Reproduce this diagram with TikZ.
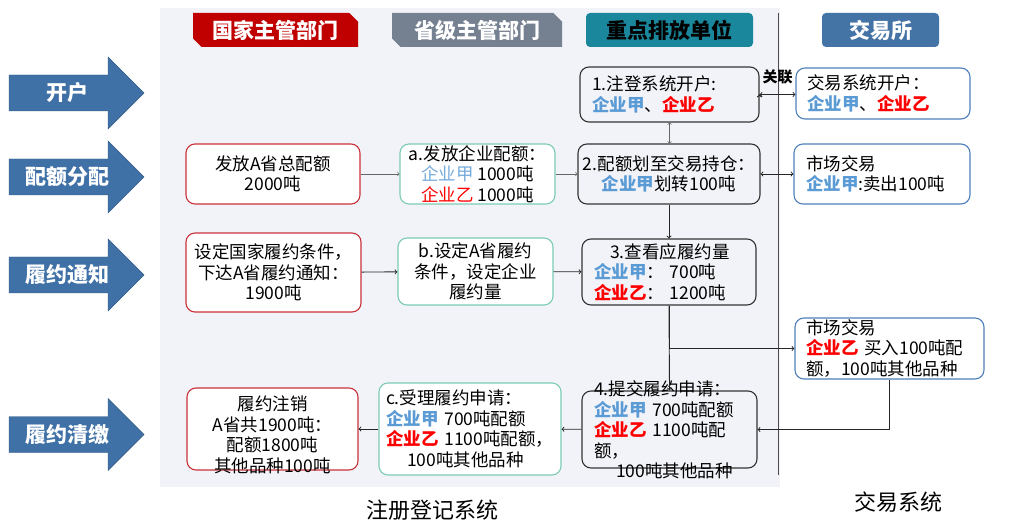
\documentclass[tikz,border=0pt]{standalone}
\usepackage{fontspec}
\setmainfont{Noto Sans CJK SC}
\usetikzlibrary{shapes.misc}

\definecolor{panelbg}{HTML}{F2F3F8}
\definecolor{natred}{HTML}{C00000}
\definecolor{provgrey}{HTML}{758090}
\definecolor{unitteal}{HTML}{1A879C}
\definecolor{exblue}{HTML}{4473A6}
\definecolor{stepblue}{HTML}{3F70A6}
\definecolor{natline}{HTML}{C8323A}
\definecolor{provline}{HTML}{7CCBB4}
\definecolor{exline}{HTML}{4E7FBA}
\definecolor{jia}{HTML}{5B9BD5}
\definecolor{yi}{HTML}{FF0000}

\begin{document}
\begin{tikzpicture}[x=1pt,y=-1pt,>=to,
  every node/.style={font=\fontsize{17.5}{20.5}\selectfont,inner sep=0pt},
  nat node/.style={rectangle,rounded corners=9pt,draw=natline,line width=1.1pt,fill=white,align=center},
  prov node/.style={rectangle,rounded corners=9pt,draw=provline,line width=1.1pt,fill=white,align=center},
  unit node/.style={rectangle,rounded corners=9pt,draw=black!80,line width=1.1pt,fill=panelbg},
  ex node/.style={rectangle,rounded corners=9pt,draw=exline,line width=1.1pt,fill=white,align=left},
  head node/.style={font=\bfseries\fontsize{21}{24}\selectfont,minimum height=34,text=white},
  snip node/.style={chamfered rectangle,chamfered rectangle xsep=5pt,chamfered rectangle angle=45,
    chamfered rectangle corners={north east,south west}},
  step node/.style={font=\bfseries\fontsize{21}{24}\selectfont,text=white},
  thin line/.style={->,draw=black!60,line width=0.6pt},
  main line/.style={->,draw=black!85,line width=0.9pt}]

  \useasboundingbox (0,0) rectangle (1009,526);

  % panel of the registry system
  \fill[panelbg] (160,8) rectangle (780,487);
  \draw[black!70,line width=1pt] (778,13) -- (778,475);

  % column heads
  \node[head node,snip node,fill=natred,minimum width=165] (hnat) at (275.5,30) {国家主管部门};
  \node[head node,snip node,fill=provgrey,minimum width=170] (hprov) at (477,30) {省级主管部门};
  \node[head node,rounded corners=4pt,fill=unitteal,text=black,minimum width=167] (hunit) at (669.5,30) {重点排放单位};
  \node[head node,rounded corners=4pt,fill=exblue,minimum width=117] (hex) at (880.5,30) {交易所};

  % steps on the left
  \foreach \y/\t in {93/开户,177/配额分配,275/履约通知,434.5/履约清缴}{
    \draw[fill=stepblue,draw=stepblue!80!black] (9,\y-18) -- (108,\y-18) -- (108,\y-36) -- (144,\y)
      -- (108,\y+36) -- (108,\y+18) -- (9,\y+18) -- cycle;
    \node[step node] (step\y) at (67,\y) {\t};
  }

  % open accounts
  \node[unit node,minimum width=179,minimum height=55,text width=155,align=left] (s1) at (669.5,94.5)
    {1.注登系统开户:\\{\bfseries\color{jia}企业甲}、{\bfseries\color{yi}企业乙}};
  \node[ex node,minimum width=174,minimum height=51,text width=152] (t1) at (883,93.5)
    {交易系统开户：\\{\bfseries\color{jia}企业甲}、{\bfseries\color{yi}企业乙}};

  % allocation
  \node[nat node,minimum width=174,minimum height=60] (g1) at (273,174) {发放A省总配额\\2000吨};
  \node[prov node,minimum width=155,minimum height=60] (p1) at (477.5,174)
    {a.发放企业配额：\\{\color{jia!85}企业甲} 1000吨\\{\color{yi}企业乙} 1000吨};
  \node[unit node,minimum width=182,minimum height=60,align=center] (s2) at (669,174)
    {2.配额划至交易持仓：\\{\bfseries\color{jia}企业甲}划转100吨};
  \node[ex node,minimum width=176,minimum height=60,text width=152] (t2) at (882,174)
    {市场交易\\{\bfseries\color{jia}企业甲}:卖出100吨};

  % notice
  \node[nat node,minimum width=175,minimum height=79] (g2) at (273.5,272.5)
    {设定国家履约条件，\\下达A省履约通知：\\1900吨};
  \node[prov node,minimum width=155,minimum height=67] (p2) at (475.5,271.5)
    {b.设定A省履约\\条件，设定企业\\履约量};
  \node[unit node,minimum width=174,minimum height=66,text width=150,align=left] (s3) at (669,272)
    {\hspace*{16pt}3.查看应履约量\\{\bfseries\color{jia}企业甲}：\ 700吨\\{\bfseries\color{yi}企业乙}：\ 1200吨};
  \node[ex node,minimum width=189,minimum height=61,text width=167] (t3) at (889.5,348.5)
    {市场交易\\{\bfseries\color{yi}企业乙} 买入100吨配\\额，100吨其他品种};

  % settlement
  \node[nat node,minimum width=171,minimum height=82] (g3) at (272.5,429) {};
  \node[align=center] (g3t) at (272.5,435) {履约注销\\A省共1900吨：\\配额1800吨\\其他品种100吨};
  \node[prov node,minimum width=182,minimum height=92,text width=168,align=left] (p3) at (470,429)
    {c.受理履约申请：\\{\bfseries\color{jia}企业甲} 700吨配额\\{\bfseries\color{yi}企业乙} 1100吨配额，\\\hspace*{21pt}100吨其他品种};
  \node[unit node,minimum width=175,minimum height=77] (s4) at (669.5,429.5) {};
  \node[align=left,text width=150] (s4t) at (669,430)
    {4.提交履约申请：\\{\bfseries\color{jia}企业甲} 700吨配额\\{\bfseries\color{yi}企业乙} 1100吨配\\额，\\\hspace*{22pt}100吨其他品种};

  % system names
  \node[font=\fontsize{22}{26}\selectfont] (regsys) at (432,510) {注册登记系统};
  \node[font=\fontsize{22}{26}\selectfont] (tradesys) at (898,502) {交易系统};

  \path[thin line]
    (g1) edge (p1)
    (p1) edge (s2)
    (s1.south) edge (s1.south |- s2.north);

  \path[main line]
    (g2) edge (p2)
    (p2) edge (s3)
    (s2) edge (s3)
    (s4) edge (p3)
    (p3) edge (g3);

  \path[main line,<->]
    (s1.east) edge node[above=10pt,font=\bfseries\fontsize{15}{18}\selectfont] (link) {关联} (s1.east -| t1.west)
    (s2) edge (t2);

  \draw[main line] (s3.south) |- (t3.west);
  \draw[main line] (s3.south) -- (s4.north);
  \draw[main line] (t3.south) |- (s4.east);

\end{tikzpicture}
\end{document}
